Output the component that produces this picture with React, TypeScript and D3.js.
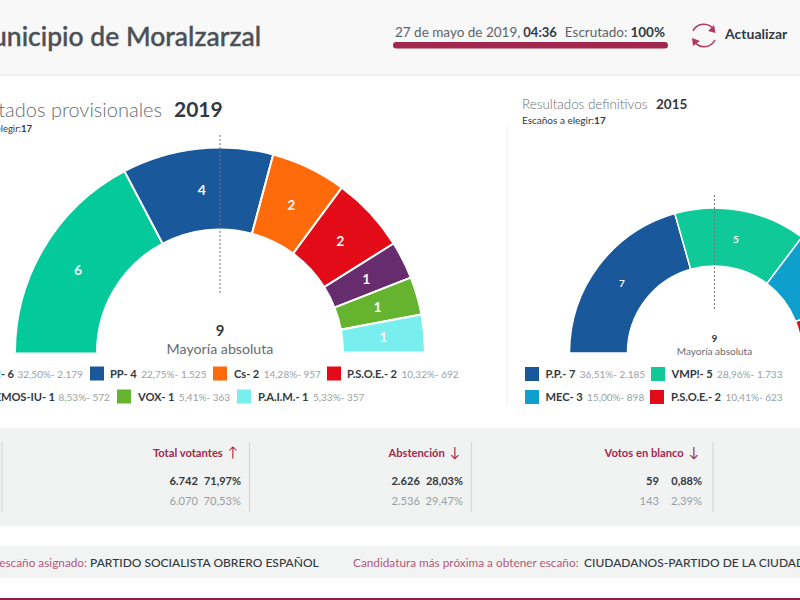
import React from "react";
import * as d3 from "d3";

const parties2019 = ["VMP!", "PP", "Cs", "P.S.O.E.", "PODEMOS-IU", "VOX", "P.A.I.M."];
const seats2019 = [6, 4, 2, 2, 1, 1, 1];
const pct2019 = ["32,50%", "22,75%", "14,28%", "10,32%", "8,53%", "5,41%", "5,33%"];
const votes2019 = ["2.179", "1.525", "957", "692", "572", "363", "357"];
const colors2019 = ["#04c99a", "#18589b", "#ff6a0a", "#e30b18", "#662c6e", "#65b32e", "#78eeee"];

const parties2015 = ["P.P.", "VMP!", "MEC", "P.S.O.E."];
const seats2015 = [7, 5, 3, 2];
const pct2015 = ["36,51%", "28,96%", "15,00%", "10,41%"];
const votes2015 = ["2.185", "1.733", "898", "623"];
const colors2015 = ["#18589b", "#0fc998", "#0f9fcd", "#e30b18"];

const statTitles = ["Total votantes", "Abstención", "Votos en blanco"];
const statArrows = ["↑", "↓", "↓"];
const statNow = [["6.742", "71,97%"], ["2.626", "28,03%"], ["59", "0,88%"]];
const statPrev = [["6.070", "70,53%"], ["2.536", "29,47%"], ["143", "2,39%"]];

const F = "Lato, 'Open Sans', sans-serif";
const DARK = "#32393f";
const GREY = "#9a9fa3";
const WINE = "#a3284f";

function Hemi({ id, seats, colors, cx, cy, outer, inner, fs, gap, overshoot }: any) {
  const pie = d3.pie<number>().sort(null).startAngle(-Math.PI / 2 - overshoot).endAngle(Math.PI / 2);
  const arc = d3.arc<d3.PieArcDatum<number>>().outerRadius(outer).innerRadius(inner);
  return (
    <g transform={`translate(${cx},${cy})`}>
      <clipPath id={id}><rect x={-outer - 2} y={-outer - 2} width={2 * outer + 4} height={outer + 2} /></clipPath>
      <g clipPath={`url(#${id})`}>
        {pie(seats).map((d, i) => (
          <path key={i} d={arc(d) || ""} fill={colors[i]} stroke="#fff" strokeWidth={gap} />
        ))}
      </g>
      {pie(seats).map((d, i) => (
        <text key={i} x={arc.centroid(d)[0]} y={arc.centroid(d)[1]} dy="0.36em" textAnchor="middle"
          fontSize={fs} fontWeight={700} fill="#f4f8f6">{seats[i]}</text>
      ))}
    </g>
  );
}

function LegendItem({ x, y, sw, color, name, seats, pct, votes, end }: any) {
  return (
    <g>
      {sw !== null && <rect x={sw} y={y - 7} width={14} height={14} fill={color} />}
      <text x={x} y={y + 4.3} fontSize={11.2} letterSpacing={-0.1} textAnchor={end ? "end" : "start"} fontWeight={700} fill={DARK}>
        {name}- {seats}
        {!end && <tspan dx={4.5} fontSize={10} letterSpacing={0} fontWeight={400} fill={GREY}>{pct}- {votes}</tspan>}
      </text>
      {end && <text x={x + 3.5} y={y + 4.3} fontSize={10} fill={GREY}>{pct}- {votes}</text>}
    </g>
  );
}

export default function App() {
  const statEnds = [241, 463, 702];
  const seps = [2, 249.5, 471.5, 713];
  return (
    <svg width={800} height={600} viewBox="0 0 800 600" fontFamily={F}
      style={{ position: "absolute", left: 0, top: 0, background: "#fff" }}>
      <rect width={800} height={75} fill="#f8f8f8" />
      <line x1={0} x2={800} y1={75} y2={75} stroke="#ececec" strokeWidth={1.5} />
      <text x={261} y={46} textAnchor="end" fontSize={26.5} fontWeight={500} fill="#4a5056" stroke="#4a5056" strokeWidth={0.4}>Municipio de Moralzarzal</text>

      <text x={395} y={36.5} fontSize={13.5} fill="#5d6368">27 de mayo de 2019,
        <tspan dx={3} fontSize={13} fontWeight={700} fill={DARK}>04:36</tspan>
        <tspan dx={8}>Escrutado:</tspan>
        <tspan dx={3} fontWeight={700} fill={DARK}>100%</tspan>
      </text>
      <rect x={393} y={42} width={275} height={6.5} rx={3.2} fill={WINE} />
      <g fill="none" stroke="#b1395f" strokeWidth={1.5}>
        <path d="M693,31 A12,12 0 0 1 714,30" />
        <path d="M715,40 A12,12 0 0 1 694,41" />
      </g>
      <path d="M714,25 L715.5,33 L708,31 Z M693,46 L692,38 L700,41 Z" fill="#b1395f" />
      <text x={725} y={39} fontSize={14} fontWeight={700} fill={DARK}>Actualizar</text>

      <line x1={507} x2={507} y1={125} y2={405} stroke="#f0f0f0" />

      <text x={162} y={117} textAnchor="end" fontSize={20} fontWeight={300} fill="#666c71">Resultados provisionales</text>
      <text x={174} y={117} fontSize={21} fontWeight={700} fill={DARK}>2019</text>
      <text x={32} y={132} textAnchor="end" fontSize={9.5} fill={DARK}>Escaños a elegir:<tspan fontWeight={700}>17</tspan></text>

      <text x={522} y={109} fontSize={13.4} fontWeight={300} fill="#666c71">Resultados definitivos</text>
      <text x={656} y={109} fontSize={13.5} fontWeight={700} fill={DARK}>2015</text>
      <text x={522} y={124} fontSize={10} fill={DARK}>Escaños a elegir:<tspan fontWeight={700}>17</tspan></text>

      <Hemi id="h19" seats={seats2019} colors={colors2019} cx={220} cy={352.5} outer={205} inner={123} fs={14} gap={2} overshoot={0.035} />
      <line x1={220} x2={220} y1={135} y2={293} stroke="#6f7478" strokeDasharray="2 2" />
      <text x={220} y={336} textAnchor="middle" fontSize={15} fontWeight={700} fill={DARK}>9</text>
      <text x={220} y={354} textAnchor="middle" fontSize={14.2} fill="#666c71">Mayoría absoluta</text>

      <Hemi id="h15" seats={seats2015} colors={colors2015} cx={714.5} cy={353} outer={145} inner={87} fs={10} gap={1.5} overshoot={0} />
      <line x1={714.5} x2={714.5} y1={195} y2={310} stroke="#6f7478" strokeDasharray="2 2" />
      <text x={714.5} y={342} textAnchor="middle" fontSize={10} fontWeight={700} fill={DARK}>9</text>
      <text x={714.5} y={354.5} textAnchor="middle" fontSize={10} fill="#666c71">Mayoría absoluta</text>

      <LegendItem end x={14} y={373.5} sw={null} color={colors2019[0]} name={parties2019[0]} seats={seats2019[0]} pct={pct2019[0]} votes={votes2019[0]} />
      <LegendItem x={110} y={373.5} sw={90} color={colors2019[1]} name={parties2019[1]} seats={seats2019[1]} pct={pct2019[1]} votes={votes2019[1]} />
      <LegendItem x={234} y={373.5} sw={213} color={colors2019[2]} name={parties2019[2]} seats={seats2019[2]} pct={pct2019[2]} votes={votes2019[2]} />
      <LegendItem x={347} y={373.5} sw={327} color={colors2019[3]} name={parties2019[3]} seats={seats2019[3]} pct={pct2019[3]} votes={votes2019[3]} />
      <LegendItem end x={55} y={396.5} sw={null} color={colors2019[4]} name={parties2019[4]} seats={seats2019[4]} pct={pct2019[4]} votes={votes2019[4]} />
      <LegendItem x={138} y={396.5} sw={117} color={colors2019[5]} name={parties2019[5]} seats={seats2019[5]} pct={pct2019[5]} votes={votes2019[5]} />
      <LegendItem x={258} y={396.5} sw={237} color={colors2019[6]} name={parties2019[6]} seats={seats2019[6]} pct={pct2019[6]} votes={votes2019[6]} />

      <LegendItem x={545.5} y={374} sw={525} color={colors2015[0]} name={parties2015[0]} seats={seats2015[0]} pct={pct2015[0]} votes={votes2015[0]} />
      <LegendItem x={671.5} y={374} sw={651} color={colors2015[1]} name={parties2015[1]} seats={seats2015[1]} pct={pct2015[1]} votes={votes2015[1]} />
      <LegendItem x={545.5} y={397} sw={525} color={colors2015[2]} name={parties2015[2]} seats={seats2015[2]} pct={pct2015[2]} votes={votes2015[2]} />
      <LegendItem x={671} y={397} sw={650} color={colors2015[3]} name={parties2015[3]} seats={seats2015[3]} pct={pct2015[3]} votes={votes2015[3]} />

      <rect x={0} y={428} width={800} height={98} fill="#f1f3f3" />
      {seps.map((x) => <line key={x} x1={x} x2={x} y1={442} y2={512} stroke="#d5d7d8" strokeWidth={1.2} />)}
      {statTitles.map((t, i) => (
        <g key={t}>
          <text x={statEnds[i] - 3} y={457} textAnchor="end" fontSize={11.2} fontWeight={700} fill={WINE}>
            {t} <tspan dx={2} fontSize={14} fontWeight={400}>{statArrows[i]}</tspan>
          </text>
          <text x={statEnds[i]} y={485} textAnchor="end" fontSize={11} fontWeight={700} fill={DARK}>{statNow[i][1]}</text>
          <text x={statEnds[i] - 43} y={485} textAnchor="end" fontSize={11.2} fontWeight={700} fill={DARK}>{statNow[i][0]}</text>
          <text x={statEnds[i]} y={505} textAnchor="end" fontSize={11.2} fill={GREY}>{statPrev[i][1]}</text>
          <text x={statEnds[i] - 43} y={505} textAnchor="end" fontSize={11.2} fill={GREY}>{statPrev[i][0]}</text>
        </g>
      ))}

      <rect x={0} y={546} width={800} height={32} fill="#f2f4f4" />
      <text x={87} y={566.5} textAnchor="end" fontSize={11.8} fill="#b5587a">Último escaño asignado:</text>
      <text x={90} y={566.5} fontSize={12} fontWeight={500} fill={DARK}>PARTIDO SOCIALISTA OBRERO ESPAÑOL</text>
      <text x={353} y={566.5} fontSize={11.8} fill="#b5587a">Candidatura más próxima a obtener escaño:</text>
      <text x={584} y={566.5} fontSize={12} fontWeight={500} fill={DARK}>CIUDADANOS-PARTIDO DE LA CIUDADANIA</text>
      <rect x={0} y={598} width={800} height={2} fill="#8e1c47" />
    </svg>
  );
}
